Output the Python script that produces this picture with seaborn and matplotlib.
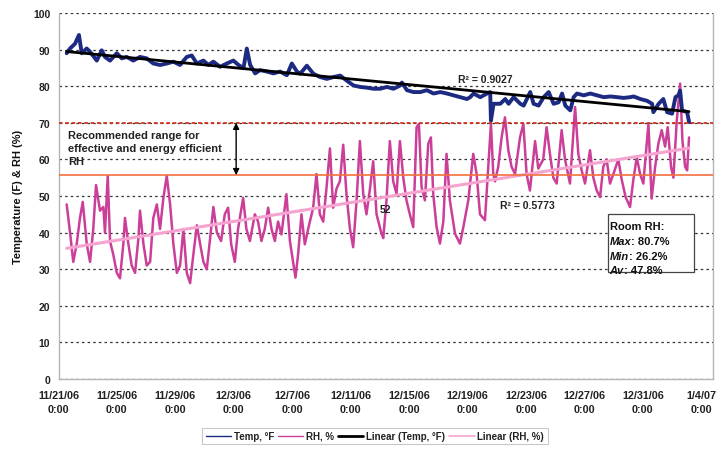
import numpy as np
import pandas as pd
import matplotlib
matplotlib.use("Agg")
import matplotlib.pyplot as plt
import seaborn as sns
from matplotlib.lines import Line2D
from matplotlib.patches import Rectangle

# ---------------- data (days since 11/21/06 0:00) ----------------
rh_days = [0.56, 0.67, 0.79, 1.01, 1.25, 1.47, 1.66, 1.93, 2.16, 2.38, 2.57, 2.84, 3.07, 3.18, 3.37,
           3.53, 3.75, 3.99, 4.21, 4.44, 4.55, 4.78, 5.01, 5.24, 5.47, 5.58, 5.81, 6.04, 6.27, 6.49,
           6.73, 6.95, 7.18, 7.41, 7.64, 7.86, 8.10, 8.32, 8.55, 8.78, 9.01, 9.23, 9.47, 9.69, 9.92,
           10.15, 10.38, 10.60, 10.84, 11.13, 11.38, 11.61, 11.82, 12.07, 12.29, 12.64, 12.86, 13.10,
           13.44, 13.66, 13.89, 14.12, 14.35, 14.58, 14.81, 15.03, 15.26, 15.60, 15.84, 16.06, 16.22,
           16.40, 16.63, 16.86, 17.09, 17.43, 17.66, 17.89, 18.12, 18.34, 18.58, 18.80, 19.03, 19.26,
           19.49, 19.71, 19.95, 20.17, 20.40, 20.63, 20.86, 21.08, 21.32, 21.54, 21.77, 22.11, 22.23,
           22.45, 22.68, 22.91, 23.14, 23.37, 23.60, 23.82, 24.05, 24.28, 24.51, 24.67, 24.85, 25.08,
           25.31, 25.49, 25.65, 25.88, 26.11, 26.34, 26.56, 26.79, 27.14, 27.48, 27.71, 28.05, 28.39,
           28.62, 28.85, 29.19, 29.42, 29.60, 29.76, 29.88, 30.10, 30.33, 30.56, 30.79, 31.01, 31.25,
           31.59, 31.82, 32.04, 32.27, 32.62, 32.84, 33.18, 33.41, 33.64, 33.87, 34.10, 34.44, 34.67,
           35.01, 35.36, 35.58, 35.81, 36.04, 36.38, 36.61, 36.84, 37.07, 37.29, 37.52, 37.75, 37.98,
           38.32, 38.55, 38.82, 39.12, 39.35, 39.58, 39.81, 40.03, 40.38, 40.60, 40.84, 41.06, 41.29,
           41.52, 41.70, 41.93, 42.09, 42.32, 42.55, 42.71, 42.89, 43.03, 43.16]
rh_values = [47.7, 44, 40, 32, 37, 44, 48.4, 37, 32, 41, 53, 46, 47, 40, 55.5,
             37.6, 34, 29, 27.5, 37, 44, 37, 31, 29, 38.5, 46, 37, 31, 32, 44,
             47.7, 41, 49.5, 55.5, 47.7, 37, 29, 31, 41, 29, 26.2, 34, 42, 37, 32,
             30, 38.5, 47, 40, 37.7, 45, 46.8, 36.8, 32, 41, 49.5, 41, 37.7,
             45, 43, 37.7, 41, 46.8, 41, 37.7, 43, 39.5, 50.5, 37.7, 32, 27.7,
             34, 45, 36.8, 41, 46.8, 56, 45, 43, 52, 63, 46.8, 52, 54,
             64, 50.5, 41, 36, 48.6, 65, 50.5, 45, 52, 59.5, 45, 39.7, 38.5,
             48.8, 65, 54, 50.6, 65, 55, 48.8, 45, 41.5, 68.8, 69.7, 52.5, 48.8,
             64.3, 66, 50.6, 41.5, 37, 43, 61.5, 48.8, 39.7, 37, 41.5, 48.8, 61.5,
             56, 45, 43.4, 58, 69.7, 56, 54, 58, 66, 71.5, 62.5, 58, 56,
             66, 69.7, 56, 51.5, 65, 57.5, 60, 68.8, 61.5, 55, 53.4, 68, 60,
             53.4, 74.3, 61.5, 57, 53.4, 62.5, 55, 51.5, 49.7, 58, 60, 53.4, 56,
             60, 54.5, 49.7, 47, 54.5, 60.6, 56, 53.4, 69.7, 49.3, 58, 64.3, 68,
             63.5, 68.8, 58, 55, 70.6, 80.7, 65, 58, 57, 66]

temp_days = [0.56, 0.79, 1.13, 1.40, 1.59, 1.93, 2.16, 2.62, 2.96, 3.18, 3.53, 3.99, 4.33, 4.67, 5.12,
             5.58, 6.04, 6.49, 6.95, 7.41, 7.86, 8.32, 8.78, 9.12, 9.47, 9.92, 10.26, 10.60, 11.06,
             11.52, 11.97, 12.32, 12.66, 12.89, 13.12, 13.46, 13.80, 14.26, 14.71, 15.17, 15.63, 15.97,
             16.32, 16.54, 17.00, 17.45, 17.91, 18.37, 18.82, 19.28, 19.74, 20.19, 20.65, 21.11, 21.56,
             22.02, 22.48, 22.93, 23.39, 23.51, 23.85, 24.30, 24.76, 25.22, 25.67, 26.13, 26.59, 27.04,
             27.50, 27.96, 28.18, 28.41, 28.87, 29.33, 29.55, 29.60, 29.78, 30.24, 30.58, 30.81, 31.15,
             31.61, 31.84, 32.29, 32.52, 32.86, 33.21, 33.55, 33.89, 34.23, 34.47, 34.69, 35.03, 35.26,
             35.49, 35.95, 36.40, 36.86, 37.32, 37.77, 38.23, 38.68, 39.14, 39.37, 39.82, 40.29, 40.63,
             40.72, 41.08, 41.40, 41.66, 42.00, 42.23, 42.43, 42.55, 42.68, 43.03, 43.16]
temp_values = [89, 90.3, 91.6, 94, 89, 90.3, 89.4, 87, 89.8, 88, 87, 89, 87.6, 88, 87,
               88, 87.6, 86.2, 85.8, 86.2, 86.7, 85.8, 88, 88.4, 86.2, 87, 85.8, 86.7, 85.3,
               86.2, 87, 85.8, 84.9, 90.3, 85.8, 83.5, 84.4, 84, 83.5, 84, 83, 86.2,
               84, 83.4, 85.6, 83.4, 82.5, 82, 82.5, 82.9, 81.5, 80.2, 79.8, 79.6, 79.3,
               79.3, 79.8, 79.3, 80.2, 81, 78.9, 78.4, 78.4, 78.9, 78, 78.4, 78, 77.5,
               77, 76.5, 77, 78, 77, 78, 78.4, 70.6, 75.2, 75.2, 76.5, 75.2, 77,
               75.2, 74.7, 78.4, 75.2, 74.7, 77, 78.4, 75.2, 75.6, 78, 74.7, 73.4, 77,
               78, 77.5, 78, 77.5, 77, 77.2, 77, 76.8, 77, 77.2, 76.5, 76, 75.2,
               72.9, 75.2, 76.5, 72.9, 72.5, 77, 77.5, 78.8, 73.4, 72.9, 70.2]

tick_days = [0, 4, 8, 12, 16, 20, 24, 28, 32, 36, 40, 44]
tick_labels = ["11/21/06\n0:00", "11/25/06\n0:00", "11/29/06\n0:00", "12/3/06\n0:00",
               "12/7/06\n0:00", "12/11/06\n0:00", "12/15/06\n0:00", "12/19/06\n0:00",
               "12/23/06\n0:00", "12/27/06\n0:00", "12/31/06\n0:00", "1/4/07\n0:00"]
legend_labels = ["Temp, °F", "RH, %", "Linear (Temp, °F)", "Linear (RH, %)"]
rh_upper, rh_lower = 70, 55.7
r2_temp, r2_rh = "0.9027", "0.5773"
room_stats = [("Max", "80.7%"), ("Min", "26.2%"), ("Av", "47.8%")]

# ---------------- style ----------------
sns.set_theme(style="white")
plt.rcParams['font.family'] = ['Liberation Sans', 'DejaVu Sans']
plt.rcParams['font.weight'] = 'bold'

TEMP_C = "#1d2a82"
RH_C = "#cc3f98"
RH_TREND_C = "#f6a3cf"

fig = plt.figure(figsize=(7.25, 4.52), dpi=100)
ax = fig.add_axes([58.5 / 725, 1 - 380 / 452, (713 - 58.5) / 725, (380 - 14) / 452])

temp_df = pd.DataFrame({"day": temp_days, "val": temp_values})
rh_df = pd.DataFrame({"day": rh_days, "val": rh_values})

ax.set_ylim(0, 100)
ax.set_xlim(0, 44.8)
ax.set_yticks(range(0, 101, 10))
ax.yaxis.grid(True, linestyle=(0, (2, 2.5)), color="#333333", lw=0.9)
ax.set_axisbelow(True)

sns.lineplot(data=rh_df, x="day", y="val", ax=ax, color=RH_C, lw=1.8, sort=False, zorder=3)
sns.lineplot(data=temp_df, x="day", y="val", ax=ax, color=TEMP_C, lw=2.8, sort=False, zorder=3)
sns.regplot(data=rh_df, x="day", y="val", ax=ax, scatter=False, ci=None, truncate=True,
            line_kws=dict(color=RH_TREND_C, lw=2.2, zorder=4))
sns.regplot(data=temp_df, x="day", y="val", ax=ax, scatter=False, ci=None, truncate=True,
            line_kws=dict(color="black", lw=2.0, zorder=4))

ax.axhline(rh_upper, color="#d2321e", lw=1.3, linestyle=(0, (2, 1.5)), zorder=5)
ax.axhline(rh_lower, color="#f4703c", lw=1.2, zorder=5)

ax.annotate("", xy=(12.16, rh_lower), xytext=(12.16, rh_upper),
            arrowprops=dict(arrowstyle="<|-|>", color="black", lw=1.0, mutation_scale=9,
                            shrinkA=0, shrinkB=0), zorder=6)
ax.text(0.65, 67.9, "Recommended range for\neffective and energy efficient\nRH",
        fontsize=8, fontweight="bold", color="#222222", va="top", ha="left", linespacing=1.35, zorder=6)

ax.text(29.2, 82, f"R² = {r2_temp}", fontsize=7.5, fontweight="bold", color="#222222",
        ha="center", va="center", zorder=6)
ax.text(32.1, 47.5, f"R² = {r2_rh}", fontsize=7.5, fontweight="bold", color="#222222",
        ha="center", va="center", zorder=6)
ax.text(22.4, 46.4, "52", fontsize=7.5, fontweight="bold", color="#222222",
        ha="center", va="center", zorder=6)

# Room RH box
ax.add_patch(Rectangle((37.58, 29.2), 5.9, 15.9, facecolor="white", edgecolor="#444444",
                       lw=0.9, zorder=7))
ax.text(37.72, 41.8, "Room RH:", fontsize=8, fontweight="bold", color="#111111",
        ha="left", va="center", zorder=8)
ys = [37.7, 33.6, 29.8]
for (name, val), yy in zip(room_stats, ys):
    t = ax.text(37.72, yy, name, fontsize=8, fontweight="bold", style="italic", color="#111111",
                ha="left", va="center", zorder=8)
    ax.annotate(f": {val}", xy=(1, 0.5), xycoords=t, fontsize=8, fontweight="bold",
                color="#111111", ha="left", va="center", zorder=8)

# axes styling
ax.set_xticks(tick_days)
ax.set_xticklabels(tick_labels, fontsize=7.8, fontweight="bold", color="#222222")
for lab in ax.get_xticklabels():
    lab.set_linespacing(1.45)
ax.tick_params(axis="x", length=2, pad=6, color="#999999")
ax.tick_params(axis="y", length=2, pad=4, color="#999999", labelsize=7.5, labelcolor="#222222")
for lab in ax.get_yticklabels():
    lab.set_fontweight("bold")
ax.set_xlabel("")
ax.set_ylabel("Temperature (F) & RH (%)", fontsize=8, fontweight="bold", color="#111111", va="center")
ax.yaxis.set_label_coords(-(58.5 - 18) / 654.5, 0.5)
ax.spines["top"].set_visible(False)
for s in ["left", "right", "bottom"]:
    ax.spines[s].set_color("#b5b5b5")
    ax.spines[s].set_linewidth(1.0)

handles = [Line2D([], [], color=TEMP_C, lw=1.0),
           Line2D([], [], color=RH_C, lw=1.0),
           Line2D([], [], color="black", lw=2.0),
           Line2D([], [], color=RH_TREND_C, lw=1.2)]
leg = fig.legend(handles, legend_labels, loc="center", bbox_to_anchor=(375 / 725, 1 - 437 / 452),
                 ncol=4, frameon=True, fancybox=False, edgecolor="#bbbbbb", fontsize=7,
                 handlelength=2.6, handletextpad=0.3, columnspacing=0.4, borderpad=0.35)
for t in leg.get_texts():
    t.set_fontweight("bold")
    t.set_color("#222222")
leg.get_frame().set_linewidth(0.8)

fig.savefig("out.png", dpi=100)
